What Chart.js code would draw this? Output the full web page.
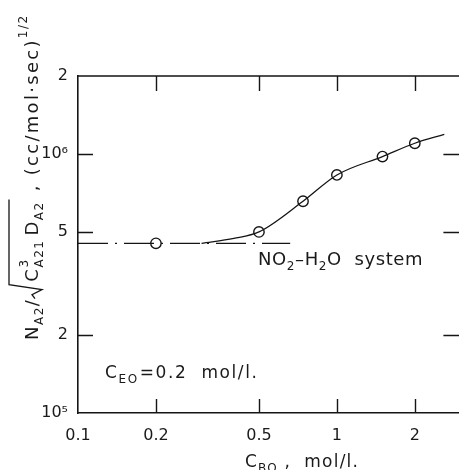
<!DOCTYPE html>
<html>
<head>
<meta charset="utf-8">
<script src="https://cdn.jsdelivr.net/npm/chart.js@4.4.1/dist/chart.umd.min.js"></script>
<style>
  html, body { margin: 0; padding: 0; overflow: hidden; background: #fff; }
  #wrap { width: 459px; height: 470px; overflow: hidden; }
</style>
</head>
<body>
<div id="wrap"><canvas id="myChart" width="467" height="470"></canvas></div>
<script>
// measured points (C_BO, mol/l  vs  N_A2/sqrt(C_A21^3 D_A2))
let concBO = [0.2, 0.5, 0.74, 1.0, 1.5, 2.0];
let fluxVals = [4.52e5, 5.0e5, 6.57e5, 8.3e5, 9.77e5, 1.1e6];

// smooth curve drawn through the points
let curveX = [0.3, 0.4, 0.5, 0.74, 1.0, 1.5, 2.0, 2.6];
let curveY = [4.52e5, 4.72e5, 5.0e5, 6.57e5, 8.3e5, 9.77e5, 1.1e6, 1.19e6];

// NO2-H2O system reference (dash-dot)
let refX = [0.1, 0.66];
let refY = [4.52e5, 4.52e5];

let xTickVals = [0.1, 0.2, 0.5, 1, 2];
let xTickLabels = ["0.1", "0.2", "0.5", "1", "2"];
let yTickVals = [1e5, 2e5, 5e5, 1e6, 2e6];
let yTickLabels = ["10\u2075", "2", "5", "10\u2076", "2"];

const ink = "#151515";
const FONT = "'DejaVu Sans', sans-serif";

function toPts(xs, ys) {
  return xs.map((x, i) => ({ x: x, y: ys[i] }));
}

// draws a list of text pieces one after another, with sub/superscripts
function richText(ctx, parts, x, y, spacing) {
  let cx = x;
  parts.forEach(p => {
    ctx.font = p.size + "px " + FONT;
    ctx.letterSpacing = (p.ls != null ? p.ls : spacing) + "px";
    if (p.t) ctx.fillText(p.t, cx, y + (p.dy || 0));
    if (!p.stay) cx += ctx.measureText(p.t).width + (p.gap || 0);
  });
  ctx.letterSpacing = "0px";
  return cx;
}

const decor = {
  id: "decor",
  afterDraw(chart) {
    const ctx = chart.ctx;
    const a = chart.chartArea;
    const xs = chart.scales.x;
    const ys = chart.scales.y;
    ctx.save();
    ctx.strokeStyle = ink;
    ctx.lineWidth = 1.6;
    // top and right frame
    ctx.beginPath();
    ctx.moveTo(a.left, a.top);
    ctx.lineTo(a.right, a.top);
    ctx.lineTo(a.right, a.bottom);
    ctx.stroke();

    // inward ticks
    ctx.lineWidth = 1.4;
    ctx.beginPath();
    [0.2, 0.5, 1, 2].forEach(v => {
      const px = Math.round(xs.getPixelForValue(v)) + 0.5;
      ctx.moveTo(px, a.bottom); ctx.lineTo(px, a.bottom - 14);
      ctx.moveTo(px, a.top); ctx.lineTo(px, a.top + 15);
    });
    [2e5, 5e5, 1e6].forEach(v => {
      const py = Math.round(ys.getPixelForValue(v)) + 0.5;
      ctx.moveTo(a.left, py); ctx.lineTo(a.left + 15, py);
      ctx.moveTo(a.right, py); ctx.lineTo(a.right - 17, py);
    });
    ctx.stroke();

    ctx.fillStyle = "#1a1a1a";
    ctx.textBaseline = "alphabetic";
    ctx.textAlign = "left";

    // x axis title
    richText(ctx, [
      { t: "C", size: 17 },
      { t: "BO", size: 12, dy: 5 },
      { t: " ,  mol/l.", size: 17 }
    ], 245, 467, 1.2);

    // annotations
    richText(ctx, [
      { t: "NO", size: 18 },
      { t: "2", size: 12, dy: 5 },
      { t: "\u2013H", size: 18 },
      { t: "2", size: 12, dy: 5 },
      { t: "O  system", size: 18 }
    ], 258, 265, 0.6);

    richText(ctx, [
      { t: "C", size: 17 },
      { t: "EO", size: 12, dy: 5, gap: 1 },
      { t: "=0.2  mol/l.", size: 17 }
    ], 105, 378, 1.6);

    // y axis title, rotated
    ctx.save();
    ctx.translate(38, 340);
    ctx.rotate(-Math.PI / 2);
    let cx = richText(ctx, [
      { t: "N", size: 18 },
      { t: "A2", size: 12, dy: 5 },
      { t: "/", size: 18 }
    ], 0, 0, 1.5);
    // radical sign
    const sqStart = cx;
    ctx.lineWidth = 1.3;
    ctx.beginPath();
    ctx.moveTo(sqStart, -3);
    ctx.lineTo(sqStart + 4, -6);
    ctx.lineTo(sqStart + 9, 4);
    ctx.lineTo(sqStart + 14, -29);
    cx = sqStart + 17;
    cx = richText(ctx, [
      { t: "C", size: 18 },
      { t: "3", size: 12, dy: -10, stay: true },
      { t: "A21", size: 12, dy: 5, gap: 4 },
      { t: "D", size: 18 },
      { t: "A2", size: 12, dy: 5, gap: 2 }
    ], cx, 0, 1.5);
    ctx.lineTo(cx, -29);
    ctx.stroke();
    richText(ctx, [
      { t: " , (cc/mol\u00b7sec)", size: 18, ls: 2.3 },
      { t: "1/2", size: 12, dy: -11 }
    ], cx, 0, 1.5);
    ctx.restore();

    ctx.restore();
  }
};

const data = {
  datasets: [
    {
      label: "NO2-H2O system",
      data: toPts(refX, refY),
      borderColor: ink,
      borderWidth: 1.2,
      borderDash: [30, 7, 2, 7],
      pointRadius: 0,
      fill: false
    },
    {
      label: "curve",
      data: toPts(curveX, curveY),
      borderColor: ink,
      borderWidth: 1.3,
      cubicInterpolationMode: "monotone",
      pointRadius: 0,
      fill: false
    },
    {
      label: "measured",
      data: toPts(concBO, fluxVals),
      showLine: false,
      pointRadius: 5.2,
      pointBorderWidth: 1.4,
      pointBackgroundColor: "#fff",
      pointBorderColor: ink
    }
  ]
};

const config = {
  type: "line",
  data: data,
  plugins: [decor],
  options: {
    responsive: false,
    animation: false,
    devicePixelRatio: 1,
    layout: { padding: { left: 0, right: 2, top: 76, bottom: 0 } },
    plugins: { legend: { display: false }, tooltip: { enabled: false } },
    scales: {
      x: {
        type: "logarithmic",
        position: "bottom",
        min: 0.1,
        max: 3,
        afterBuildTicks: s => { s.ticks = xTickVals.map(v => ({ value: v })); },
        afterFit: s => { s.height = 57; },
        grid: { display: false },
        border: { display: true, color: ink, width: 1.6 },
        ticks: {
          autoSkip: false,
          maxRotation: 0,
          padding: 5,
          color: "#1a1a1a",
          font: { family: FONT, size: 16 },
          callback: (v, i) => xTickLabels[i]
        }
      },
      y: {
        type: "logarithmic",
        min: 1e5,
        max: 2e6,
        afterBuildTicks: s => { s.ticks = yTickVals.map(v => ({ value: v })); },
        afterFit: s => { s.width = 78; },
        grid: { display: false },
        border: { display: true, color: ink, width: 1.6 },
        ticks: {
          autoSkip: false,
          padding: 2,
          color: "#1a1a1a",
          font: { family: FONT, size: 16 },
          callback: (v, i) => yTickLabels[i]
        }
      }
    }
  }
};

const myChart = new Chart(document.getElementById("myChart"), config);
</script>
</body>
</html>
